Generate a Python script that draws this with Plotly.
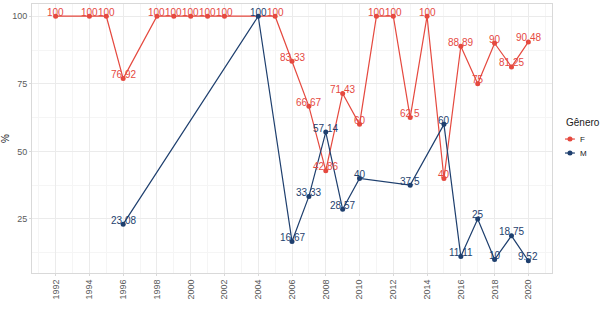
import plotly.graph_objects as go

# Values
anos_f = [1992, 1994, 1995, 1996, 1998, 1999, 2000, 2001, 2002, 2005, 2006, 2007,
          2008, 2009, 2010, 2011, 2012, 2013, 2014, 2015, 2016, 2017, 2018, 2019, 2020]
pct_f = [100, 100, 100, 76.92, 100, 100, 100, 100, 100, 100, 83.33, 66.67,
         42.86, 71.43, 60, 100, 100, 62.5, 100, 40, 88.89, 75, 90, 81.25, 90.48]

anos_m = [1996, 2004, 2006, 2007, 2008, 2009, 2010, 2013, 2015, 2016, 2017, 2018, 2019, 2020]
pct_m = [23.08, 100, 16.67, 33.33, 57.14, 28.57, 40, 37.5, 60, 11.11, 25, 10, 18.75, 9.52]

x_ticks = list(range(1992, 2021, 2))
y_ticks = [25, 50, 75, 100]

cor_f = "#E5493F"
cor_m = "#1E3F6E"

def fmt(v):
    return ("%.2f" % v).rstrip("0").rstrip(".")

fig = go.Figure()
series = [("F", anos_f, pct_f, cor_f), ("M", anos_m, pct_m, cor_m)]
for nome, xs, ys, cor in series:
    fig.add_trace(go.Scatter(
        x=xs, y=ys, mode="lines+markers", name=nome, showlegend=False,
        line=dict(color=cor, width=1.2),
        marker=dict(color=cor, size=5),
    ))
    for x, y in zip(xs, ys):
        fig.add_annotation(
            x=x, y=y, text=fmt(y), showarrow=False, yshift=4,
            font=dict(color=cor, size=10, family="Liberation Sans, Arial"),
        )

# legend drawn by hand (ggplot-style short keys)
fig.add_annotation(xref="paper", yref="paper", x=1.023, y=0.558, text="Gênero",
                   showarrow=False, xanchor="left",
                   font=dict(size=10, color="#1A1A1A"))
for i, (nome, xs, ys, cor) in enumerate(series):
    yy = 0.498 - i * 0.052
    fig.add_shape(type="line", xref="paper", yref="paper",
                  x0=1.025, x1=1.044, y0=yy, y1=yy, line=dict(color=cor, width=1.2))
    fig.add_shape(type="circle", xref="paper", yref="paper",
                  xsizemode="pixel", ysizemode="pixel", xanchor=1.0346, yanchor=yy,
                  x0=-2.5, x1=2.5, y0=-2.5, y1=2.5,
                  fillcolor=cor, line=dict(color=cor, width=0))
    fig.add_annotation(xref="paper", yref="paper", x=1.05, y=yy, text=nome,
                       showarrow=False, xanchor="left",
                       font=dict(size=8, color="#1A1A1A"))

fig.update_layout(
    width=605, height=310,
    margin=dict(l=32, r=53, t=4, b=37),
    plot_bgcolor="white", paper_bgcolor="white",
    font=dict(family="Liberation Sans, Arial", size=9, color="#5A5A5A"),
)
fig.update_xaxes(
    range=[1990.6, 2021.4], tickvals=x_ticks, tickangle=-90, automargin=False,
    showgrid=True, gridcolor="#EBEBEB", gridwidth=1,
    minor=dict(dtick=1, tick0=1991, showgrid=True, gridcolor="#F5F5F5"),
    showline=True, linecolor="#D9D9D9", mirror=True, zeroline=False,
    ticks="outside", ticklen=2, tickcolor="#D9D9D9",
)
fig.update_yaxes(
    range=[5.0, 104.52], tickvals=y_ticks, automargin=False,
    title=dict(text="%", font=dict(size=10, color="#1A1A1A"), standoff=2),
    showgrid=True, gridcolor="#EBEBEB", gridwidth=1,
    minor=dict(dtick=12.5, tick0=12.5, showgrid=True, gridcolor="#F5F5F5"),
    showline=True, linecolor="#D9D9D9", mirror=True, zeroline=False,
    ticks="outside", ticklen=2, tickcolor="#D9D9D9",
)

# the page body has a default 8px margin; remove it so the figure fills the window
fig.write_html("out.html", config={"displayModeBar": False},
               post_script="document.body.style.margin = '0';")
